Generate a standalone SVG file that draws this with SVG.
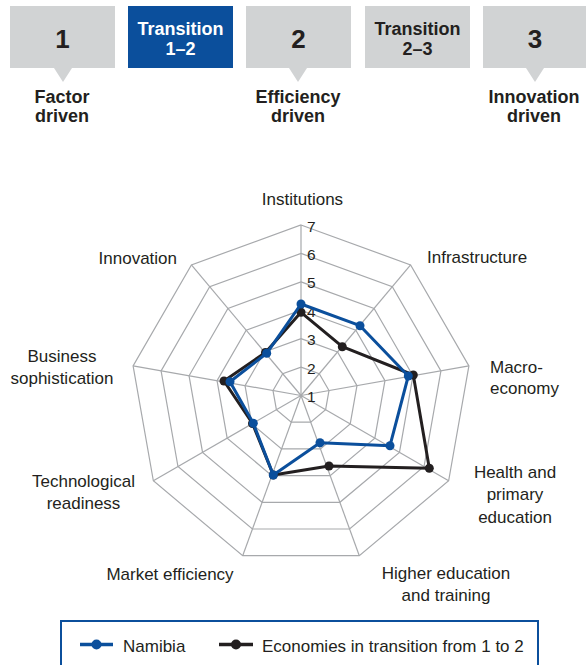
<svg xmlns="http://www.w3.org/2000/svg" width="587" height="665" viewBox="0 0 587 665">
<style>
.box{fill:#d1d3d4}
.boxb{fill:#0b4f9c}
.hd{font-family:"Liberation Sans",Arial,sans-serif;font-weight:bold;fill:#231f20;text-anchor:middle}
.num{font-size:26px}
.tr{font-size:18px}
.stage{font-size:18px}
.w{fill:#ffffff}
.lbl{font-family:"Liberation Sans",Arial,sans-serif;font-size:17px;fill:#231f20}
.ax{font-family:"Liberation Sans",Arial,sans-serif;font-size:15.5px;fill:#231f20}
.ring{fill:none;stroke:#a7a9ac;stroke-width:1.2}
.spoke{stroke:#a7a9ac;stroke-width:1.2}
.sb{fill:none;stroke:#0b4f9c;stroke-width:3;stroke-linejoin:round}
.sk{fill:none;stroke:#231f20;stroke-width:3;stroke-linejoin:round}
.db{fill:#0b4f9c}
.dk{fill:#231f20}
</style>
<rect width="587" height="665" fill="#ffffff"/>

<g id="stage1">
<rect class="box" x="10" y="6" width="105" height="62"/>
<polygon class="box" points="54,68 72,68 63,82"/>
<text class="hd num" x="62.5" y="48">1</text>
<text class="hd stage" x="62" y="103">Factor</text>
<text class="hd stage" x="62" y="122">driven</text>
</g>
<g id="transition12">
<rect class="boxb" x="128" y="6" width="105" height="62"/>
<text class="hd tr w" x="180.5" y="35">Transition</text>
<text class="hd tr w" x="180.5" y="55">1–2</text>
</g>
<g id="stage2">
<rect class="box" x="246" y="6" width="105" height="62"/>
<polygon class="box" points="289,68 307,68 298,82"/>
<text class="hd num" x="298.5" y="48">2</text>
<text class="hd stage" x="298" y="103">Efficiency</text>
<text class="hd stage" x="298" y="122">driven</text>
</g>
<g id="transition23">
<rect class="box" x="365" y="6" width="105" height="62"/>
<text class="hd tr" x="417.5" y="35">Transition</text>
<text class="hd tr" x="417.5" y="55">2–3</text>
</g>
<g id="stage3">
<rect class="box" x="483" y="6" width="103" height="62"/>
<polygon class="box" points="526,68 544,68 535,82"/>
<text class="hd num" x="535" y="48">3</text>
<text class="hd stage" x="534" y="103">Innovation</text>
<text class="hd stage" x="534" y="122">driven</text>
</g>

<g id="grid">
<polygon class="ring" points="301,367.08 319.27,373.73 328.99,390.57 325.61,409.71 310.72,422.21 291.28,422.21 276.39,409.71 273.01,390.57 282.73,373.73"/>
<polygon class="ring" points="301,338.67 337.53,351.97 356.97,385.63 350.22,423.92 320.44,448.9 281.56,448.9 251.78,423.92 245.03,385.63 264.47,351.97"/>
<polygon class="ring" points="301,310.25 355.8,330.2 384.95,380.7 374.83,438.13 330.16,475.61 271.84,475.61 227.17,438.13 217.05,380.7 246.2,330.2"/>
<polygon class="ring" points="301,281.83 374.07,308.43 412.94,375.77 399.44,452.34 339.88,502.32 262.12,502.32 202.56,452.34 189.06,375.77 227.93,308.43"/>
<polygon class="ring" points="301,253.42 392.33,286.67 440.92,370.83 424.04,466.54 349.59,529.01 252.41,529.01 177.96,466.54 161.08,370.83 209.67,286.67"/>
<polygon class="ring" points="301,225 410.6,264.9 468.91,365.9 448.65,480.75 359.31,555.72 242.69,555.72 153.35,480.75 133.09,365.9 191.4,264.9"/>
<line class="spoke" x1="301" y1="395.5" x2="301" y2="225"/>
<line class="spoke" x1="301" y1="395.5" x2="410.6" y2="264.9"/>
<line class="spoke" x1="301" y1="395.5" x2="468.91" y2="365.9"/>
<line class="spoke" x1="301" y1="395.5" x2="448.65" y2="480.75"/>
<line class="spoke" x1="301" y1="395.5" x2="359.31" y2="555.72"/>
<line class="spoke" x1="301" y1="395.5" x2="242.69" y2="555.72"/>
<line class="spoke" x1="301" y1="395.5" x2="153.35" y2="480.75"/>
<line class="spoke" x1="301" y1="395.5" x2="133.09" y2="365.9"/>
<line class="spoke" x1="301" y1="395.5" x2="191.4" y2="264.9"/>
</g>

<g id="scale">
<text class="ax" x="307" y="402">1</text>
<text class="ax" x="307" y="373.6">2</text>
<text class="ax" x="307" y="345.2">3</text>
<text class="ax" x="307" y="316.8">4</text>
<text class="ax" x="307" y="288.3">5</text>
<text class="ax" x="307" y="259.9">6</text>
<text class="ax" x="307" y="231.5">7</text>
</g>

<g id="axis-labels">
<text class="lbl" x="302.5" y="205" text-anchor="middle">Institutions</text>
<text class="lbl" x="427" y="263">Infrastructure</text>
<text class="lbl" x="490" y="373">Macro-</text>
<text class="lbl" x="490" y="394">economy</text>
<text class="lbl" x="515" y="478" text-anchor="middle">Health and</text>
<text class="lbl" x="515" y="500" text-anchor="middle">primary</text>
<text class="lbl" x="515" y="523" text-anchor="middle">education</text>
<text class="lbl" x="446" y="579" text-anchor="middle">Higher education</text>
<text class="lbl" x="446" y="601" text-anchor="middle">and training</text>
<text class="lbl" x="170" y="580" text-anchor="middle">Market efficiency</text>
<text class="lbl" x="83.5" y="487" text-anchor="middle">Technological</text>
<text class="lbl" x="83.5" y="509" text-anchor="middle">readiness</text>
<text class="lbl" x="62" y="362" text-anchor="middle">Business</text>
<text class="lbl" x="62" y="384" text-anchor="middle">sophistication</text>
<text class="lbl" x="177" y="264" text-anchor="end">Innovation</text>
</g>

<g id="connectors">
<g id="series-transition">
<polygon class="sk" points="301,312.3 342.3,346.7 413.3,375 429.3,468.3 329,466 273.3,475 252.5,423.5 224,381 265.5,352.5"/>
<g class="dk">
<circle cx="301" cy="312.3" r="4.5"/><circle cx="342.3" cy="346.7" r="4.5"/><circle cx="413.3" cy="375" r="4.5"/>
<circle cx="429.3" cy="468.3" r="4.5"/><circle cx="329" cy="466" r="4.5"/><circle cx="273.3" cy="475" r="4.5"/>
<circle cx="252.5" cy="423.5" r="4.5"/><circle cx="224" cy="381" r="4.5"/><circle cx="265.5" cy="352.5" r="4.5"/>
</g>
</g>
<g id="series-namibia">
<polygon class="sb" points="301,304 360,325.7 408.3,376 390,445.7 320,442.7 273.3,475 253.3,423.3 230,381.7 266.7,353.3"/>
<g class="db">
<circle cx="301" cy="304" r="4.5"/><circle cx="360" cy="325.7" r="4.5"/><circle cx="408.3" cy="376" r="4.5"/>
<circle cx="390" cy="445.7" r="4.5"/><circle cx="320" cy="442.7" r="4.5"/><circle cx="273.3" cy="475" r="4.5"/>
<circle cx="253.3" cy="423.3" r="4.5"/><circle cx="230" cy="381.7" r="4.5"/><circle cx="266.7" cy="353.3" r="4.5"/>
</g>
</g>
</g>

<g id="legend">
<rect x="61" y="621" width="477" height="60" fill="#ffffff" stroke="#0b4f9c" stroke-width="2"/>
<line x1="80" y1="644.5" x2="113" y2="644.5" stroke="#0b4f9c" stroke-width="3.5"/>
<circle cx="96.5" cy="644.5" r="5" fill="#0b4f9c"/>
<text class="lbl" x="123" y="652">Namibia</text>
<line x1="219" y1="644.5" x2="253" y2="644.5" stroke="#231f20" stroke-width="3.5"/>
<circle cx="236" cy="644.5" r="5" fill="#231f20"/>
<text class="lbl" x="262" y="652">Economies in transition from 1 to 2</text>
</g>
</svg>
